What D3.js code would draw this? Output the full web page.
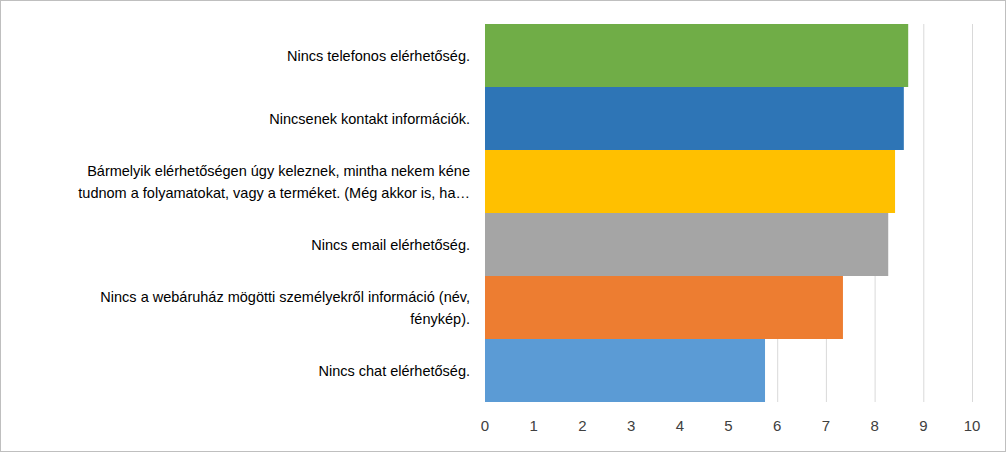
<!DOCTYPE html>
<html><head><meta charset="utf-8">
<script src="https://cdn.jsdelivr.net/npm/d3@7"></script>
<style>body{margin:0;background:#fff}svg{display:block}</style>
</head><body><svg id="chart" width="1006" height="452"></svg>
<script>
// Data
const labels = [
  ["Nincs telefonos elérhetőség."],
  ["Nincsenek kontakt információk."],
  ["Bármelyik elérhetőségen úgy keleznek, mintha nekem kéne", "tudnom a folyamatokat, vagy a terméket. (Még akkor is, ha…"],
  ["Nincs email elérhetőség."],
  ["Nincs a webáruház mögötti személyekről információ (név,", "fénykép)."],
  ["Nincs chat elérhetőség."]
];
const values = [8.69, 8.6, 8.42, 8.28, 7.35, 5.75];
const colors = ["#70AD47", "#2E75B6", "#FFC000", "#A5A5A5", "#ED7D31", "#5B9BD5"];
const ticks = [0, 1, 2, 3, 4, 5, 6, 7, 8, 9, 10];

const svg = d3.select("#chart");
svg.append("rect").attr("x", 0.5).attr("y", 0.5).attr("width", 1005).attr("height", 451)
  .attr("fill", "#fff").attr("stroke", "#bfbfbf");

const x = d3.scaleLinear().domain([0, 10]).range([485, 972]);
const y = d3.scaleBand().domain(d3.range(values.length)).range([24, 402]).padding(0);

// grid
svg.append("g").selectAll("line").data(ticks).join("line")
  .attr("x1", d => x(d) + 0.5).attr("x2", d => x(d) + 0.5)
  .attr("y1", 24).attr("y2", 402).attr("stroke", "#d9d9d9");

svg.append("g").selectAll("rect").data(values).join("rect")
  .attr("x", x(0)).attr("y", (d, i) => y(i))
  .attr("width", d => x(d) - x(0)).attr("height", y.bandwidth())
  .attr("fill", (d, i) => colors[i]);

// axis labels
svg.append("g").selectAll("text").data(ticks).join("text")
  .attr("x", d => x(d)).attr("y", 431).attr("text-anchor", "middle")
  .attr("font-family", "Liberation Sans, Arial, sans-serif").attr("font-size", 15)
  .attr("fill", "#404040").text(d => d);

// category labels
const lab = svg.append("g").selectAll("text").data(labels).join("text")
  .attr("text-anchor", "end")
  .attr("font-family", "Liberation Sans, Arial, sans-serif").attr("font-size", 14.5)
  .attr("fill", "#000")
  .attr("transform", (d, i) => `translate(470,${y(i) + y.bandwidth() / 2 - (d.length - 1) * 11 + 5})`);
lab.selectAll("tspan").data(d => d).join("tspan")
  .attr("x", 0).attr("dy", (d, i) => i ? 22 : 0).text(d => d);
</script></body></html>
